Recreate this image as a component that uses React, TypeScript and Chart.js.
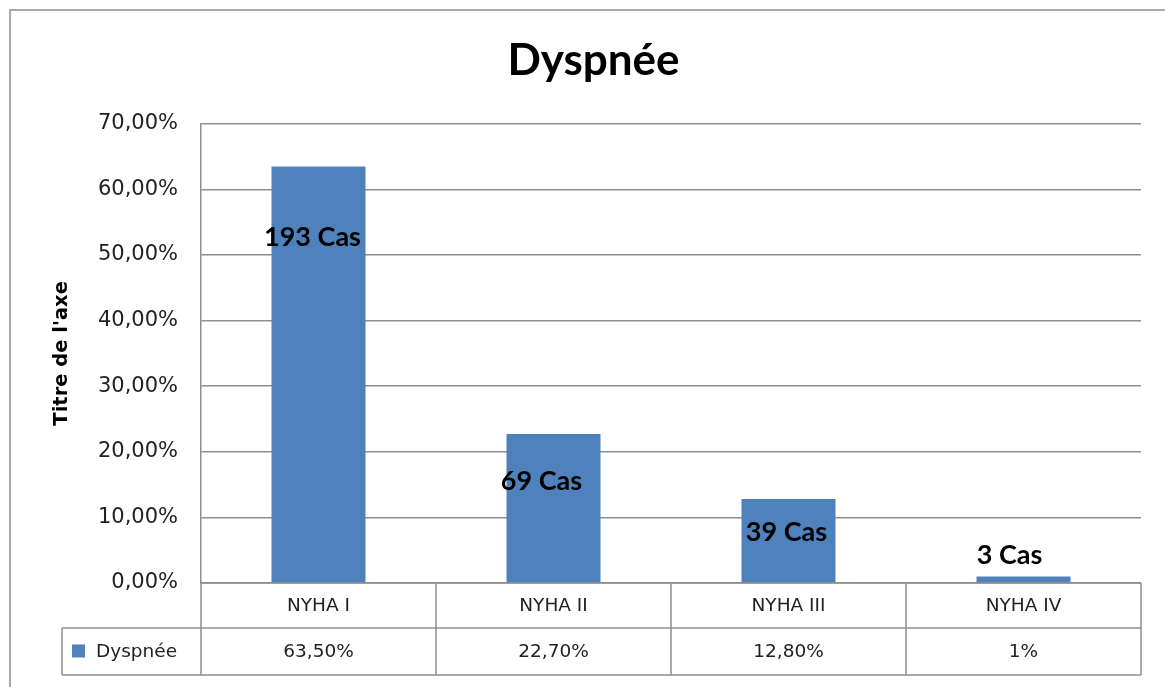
import { useEffect, useRef } from "react";
import { Chart, registerables } from "chart.js";

Chart.register(...registerables);

const categories = ["NYHA I", "NYHA II", "NYHA III", "NYHA IV"];
const percentages = [63.5, 22.7, 12.8, 1];
const tableValues = ["63,50%", "22,70%", "12,80%", "1%"];
const caseCounts = [193, 69, 39, 3];
const seriesName = "Dyspnée";
const chartTitle = "Dyspnée";
const yAxisTitle = "Titre de l'axe";
const yMin = 0;
const yMax = 70;
const yStep = 10;

// label placement tweaks (style, in pixels relative to bar top / centre)
const labelDx = [-6, -12, -2, -14];
const labelDy = [71, 47, 33, -21];

const BAR_COLOR = "#4f81bd";
const LINE_COLOR = "#8e8e8e";
const TEXT_COLOR = "#222222";

const W = 1165;
const H = 687;

const framePlugin = {
  id: "frame",
  beforeDraw(chart: any) {
    const { ctx } = chart;
    ctx.save();
    ctx.fillStyle = "#ffffff";
    ctx.fillRect(0, 0, chart.width, chart.height);
    ctx.strokeStyle = "#a9a9a9";
    ctx.lineWidth = 2;
    ctx.beginPath();
    ctx.moveTo(10, chart.height);
    ctx.lineTo(10, 10);
    ctx.lineTo(chart.width, 10);
    ctx.stroke();
    ctx.restore();
  },
};

const barLabelPlugin = {
  id: "barLabels",
  afterDatasetsDraw(chart: any) {
    const { ctx } = chart;
    const meta = chart.getDatasetMeta(0);
    ctx.save();
    ctx.font = "bold 27px Lato";
    ctx.fillStyle = "#000000";
    ctx.textAlign = "center";
    ctx.textBaseline = "middle";
    meta.data.forEach((el: any, i: number) => {
      ctx.fillText(`${caseCounts[i]} Cas`, el.x + labelDx[i], el.y + labelDy[i]);
    });
    ctx.restore();
  },
};

const dataTablePlugin = {
  id: "dataTable",
  afterDraw(chart: any) {
    const { ctx, chartArea } = chart;
    const xs = chart.scales.x;
    const n = categories.length;
    const step = n > 1 ? xs.getPixelForValue(1) - xs.getPixelForValue(0) : chartArea.width;
    const edges: number[] = [];
    for (let i = 0; i <= n; i++) edges.push(xs.getPixelForValue(0) - step / 2 + i * step);
    const top = chartArea.bottom;
    const mid = top + 45;
    const bot = mid + 47;
    const legendLeft = 62;

    ctx.save();
    ctx.strokeStyle = LINE_COLOR;
    ctx.lineWidth = 1.5;
    ctx.beginPath();
    ctx.moveTo(edges[0], top);
    ctx.lineTo(edges[n], top);
    ctx.moveTo(legendLeft, mid);
    ctx.lineTo(edges[n], mid);
    ctx.moveTo(legendLeft, bot);
    ctx.lineTo(edges[n], bot);
    edges.forEach((x) => {
      ctx.moveTo(x, top);
      ctx.lineTo(x, bot);
    });
    ctx.moveTo(legendLeft, mid);
    ctx.lineTo(legendLeft, bot);
    ctx.stroke();

    ctx.fillStyle = TEXT_COLOR;
    ctx.font = "18.5px 'DejaVu Sans'";
    ctx.textAlign = "center";
    ctx.textBaseline = "middle";
    for (let i = 0; i < n; i++) {
      const cx = (edges[i] + edges[i + 1]) / 2;
      ctx.fillText(categories[i], cx, (top + mid) / 2 + 1);
      ctx.fillText(tableValues[i], cx, (mid + bot) / 2 + 1);
    }
    ctx.fillStyle = BAR_COLOR;
    ctx.fillRect(72, (mid + bot) / 2 - 7, 13, 13);
    ctx.fillStyle = TEXT_COLOR;
    ctx.textAlign = "left";
    ctx.fillText(seriesName, 96, (mid + bot) / 2 + 1);
    ctx.restore();
  },
};

export default function App() {
  const ref = useRef<HTMLCanvasElement | null>(null);

  useEffect(() => {
    document.body.style.margin = "0";
    const canvas = ref.current;
    if (!canvas) return;
    const chart = new Chart(canvas, {
      type: "bar",
      data: {
        labels: categories,
        datasets: [
          {
            label: seriesName,
            data: percentages,
            backgroundColor: BAR_COLOR,
            borderWidth: 0,
            barPercentage: 0.4,
            categoryPercentage: 1.0,
          },
        ],
      },
      options: {
        animation: false,
        responsive: false,
        devicePixelRatio: 1,
        layout: { padding: { left: 46, right: 24, top: 0, bottom: 0 } },
        plugins: {
          legend: { display: false },
          tooltip: { enabled: false },
          title: {
            display: true,
            text: chartTitle,
            color: "#000000",
            font: { family: "Lato", size: 44, weight: "bold" },
            padding: { top: 34, bottom: 37 },
          },
        },
        scales: {
          x: {
            ticks: { display: false },
            grid: { display: false },
            border: { display: false },
            afterFit(scale: any) {
              scale.height = 104;
            },
          },
          y: {
            min: yMin,
            max: yMax,
            ticks: {
              stepSize: yStep,
              color: TEXT_COLOR,
              padding: 23,
              font: { family: "DejaVu Sans", size: 21 },
              callback: (v: any) => Number(v).toFixed(2).replace(".", ",") + "%",
            },
            grid: { color: LINE_COLOR, lineWidth: 1.5, drawTicks: false },
            border: { display: true, color: LINE_COLOR, width: 1.5 },
            title: {
              display: true,
              text: yAxisTitle,
              color: "#000000",
              font: { family: "DejaVu Sans", size: 19.5, weight: "bold" },
              padding: { top: 4, bottom: 4 },
            },
            afterFit(scale: any) {
              scale.width = 155;
            },
          },
        },
      },
      plugins: [framePlugin, barLabelPlugin, dataTablePlugin],
    });
    return () => chart.destroy();
  }, []);

  return <canvas ref={ref} width={W} height={H} style={{ display: "block" }} />;
}
